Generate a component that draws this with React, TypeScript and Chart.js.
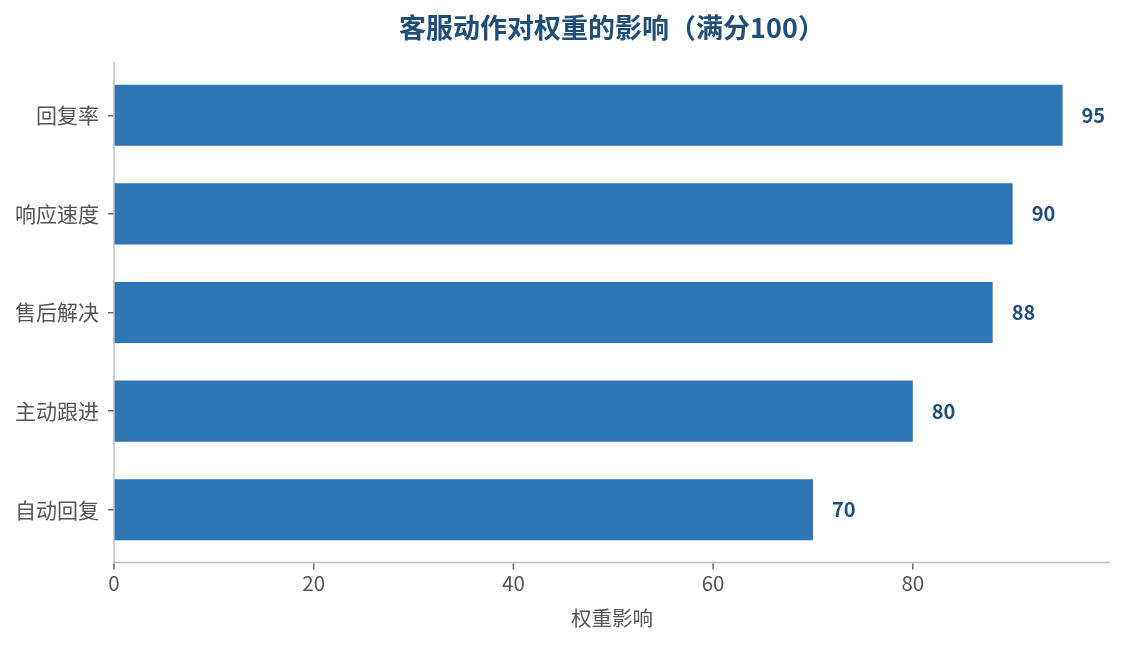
import { useEffect, useRef } from "react";
import Chart from "chart.js/auto";

// 数据
const categories = ["回复率", "响应速度", "售后解决", "主动跟进", "自动回复"];
const weights = [95, 90, 88, 80, 70];
const xTicks = [0, 20, 40, 60, 80];

const FONT = "'Noto Sans CJK SC', 'Noto Sans', sans-serif";

const App = () => {
  const chartRef = useRef<HTMLCanvasElement | null>(null);

  useEffect(() => {
    let myChart: Chart | null = null;
    if (chartRef.current) {
      myChart = new Chart(chartRef.current, {
        type: "bar",
        data: {
          labels: categories,
          datasets: [
            {
              label: "权重影响",
              data: weights,
              backgroundColor: "#2E75B6",
              borderWidth: 0,
              categoryPercentage: 1,
              barPercentage: 0.62,
            },
          ],
        },
        options: {
          indexAxis: "y",
          animation: false,
          responsive: true,
          maintainAspectRatio: false,
          layout: { padding: { left: 0, right: 6, top: 0, bottom: 0 } },
          plugins: {
            legend: { display: false },
            tooltip: { enabled: false },
            title: {
              display: true,
              text: "客服动作对权重的影响（满分100）",
              color: "#1F4E79",
              fullSize: false,
              font: { family: FONT, size: 27, weight: "bold", lineHeight: 1.2 },
              padding: { top: 3.8, bottom: 21.8 },
            },
          },
          scales: {
            x: {
              min: 0,
              max: 99.75,
              afterBuildTicks: (scale) => {
                scale.ticks = xTicks.map((v) => ({ value: v }));
              },
              afterFit: (scale) => {
                scale.height = 78;
              },
              grid: { display: false, drawTicks: false },
              border: { display: false },
              ticks: {
                color: "#555555",
                padding: 12,
                font: { family: FONT, size: 20.5 },
              },
              title: {
                display: true,
                text: "权重影响",
                color: "#555555",
                font: { family: FONT, size: 20.5 },
                padding: { top: 0, bottom: 6.7 },
              },
            },
            y: {
              afterFit: (scale) => {
                scale.width = 106;
              },
              grid: {
                drawOnChartArea: false,
                offset: false,
                tickLength: 6,
                color: "#666666",
                lineWidth: 1.5,
              },
              border: { display: false },
              ticks: {
                color: "#555555",
                padding: 9,
                font: { family: FONT, size: 21 },
              },
            },
          },
        },
        plugins: [
          {
            id: "spines_and_labels",
            afterDatasetsDraw: (chart) => {
              const ctx = chart.ctx;
              const { left, right, top, bottom } = chart.chartArea;
              const xAxis = chart.scales["x"];
              const axisY = bottom + 3.5;
              ctx.save();
              // 轴线
              ctx.strokeStyle = "#C0C0C0";
              ctx.lineWidth = 1.5;
              ctx.beginPath();
              ctx.moveTo(left, top - 4);
              ctx.lineTo(left, axisY);
              ctx.lineTo(right, axisY);
              ctx.stroke();
              // x轴刻度线
              ctx.strokeStyle = "#666666";
              xTicks.forEach((v) => {
                const px = xAxis.getPixelForValue(v);
                ctx.beginPath();
                ctx.moveTo(px, axisY + 1);
                ctx.lineTo(px, axisY + 7);
                ctx.stroke();
              });
              // 数值标签
              ctx.fillStyle = "#1F4E79";
              ctx.font = `bold 20px ${FONT}`;
              ctx.textAlign = "left";
              ctx.textBaseline = "middle";
              chart.getDatasetMeta(0).data.forEach((bar, i) => {
                ctx.fillText(String(weights[i]), bar.x + 19, bar.y);
              });
              ctx.restore();
            },
          },
        ],
      });
    }
    return () => {
      if (myChart) {
        myChart.destroy();
      }
    };
  }, []);

  return (
    <div style={{ position: "relative", height: "629px" }}>
      <canvas ref={chartRef} />
    </div>
  );
};

export default App;
